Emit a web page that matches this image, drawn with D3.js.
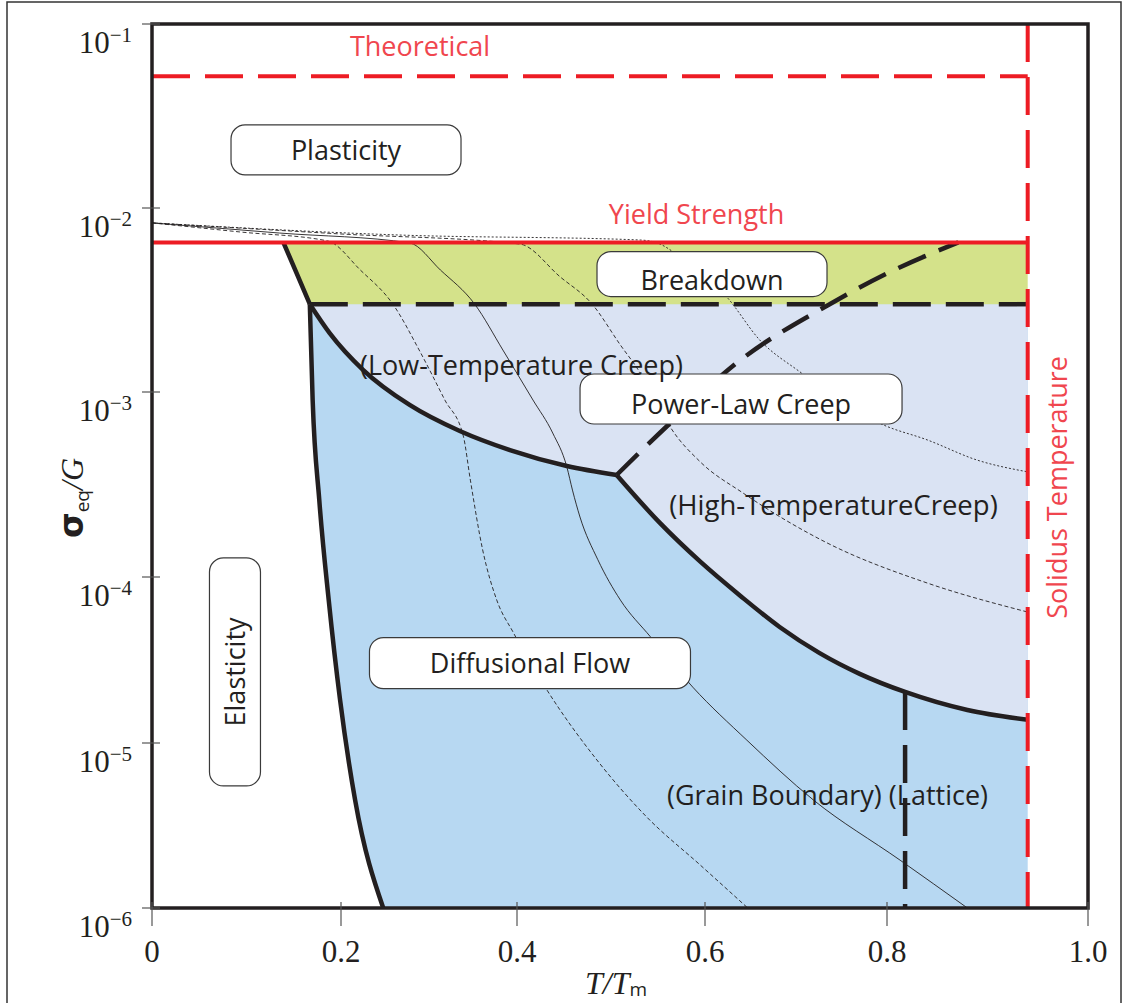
<!DOCTYPE html>
<html>
<head>
<meta charset="utf-8">
<script src="https://cdn.jsdelivr.net/npm/d3@7"></script>
<style>
  body { margin: 0; background: #fff; }
  svg { font-family: "Open Sans", sans-serif; }
</style>
</head>
<body>
<div id="chart"></div>
<script>
// axis ticks
const tempTicks = [0, 0.2, 0.4, 0.6, 0.8, 1.0];
const tempTickLabels = ['0', '0.2', '0.4', '0.6', '0.8', '1.0'];
const stressTicks = [1e-6, 1e-5, 1e-4, 1e-3, 1e-2, 1e-1];
const stressExponents = ['−6', '−5', '−4', '−3', '−2', '−1'];

// limits (sigma/G, T/Tm)
const theoretical = 0.052;
const yieldStrength = 6.5e-3;
const breakdownLimit = 3.0e-3;
const solidus = 0.94;

// mechanism boundaries, points are [T/Tm, sigma/G]
const elasticUpper = [[0.139, 6.5e-3], [0.153, 4.43e-3], [0.167, 3.0e-3]];
const elasticLower = [[0.167, 3.0e-3], [0.170, 9.05e-4], [0.177, 2.61e-4], [0.187, 7.26e-5],
  [0.199, 1.82e-5], [0.216, 4.52e-6], [0.248, 1e-6]];
const lowTempCreep = [[0.167, 3.0e-3], [0.188, 2.09e-3], [0.225, 1.32e-3], [0.278, 8.51e-4],
  [0.335, 6.15e-4], [0.392, 4.85e-4], [0.453, 3.98e-4], [0.506, 3.56e-4]];
const highTempCreep = [[0.506, 3.56e-4], [0.552, 1.96e-4], [0.595, 1.21e-4], [0.639, 7.69e-5],
  [0.682, 5.00e-5], [0.726, 3.48e-5], [0.770, 2.61e-5], [0.818, 2.03e-5], [0.880, 1.58e-5], [0.94, 1.38e-5]];
const powerLawBreakdown = [[0.506, 3.56e-4], [0.563, 6.79e-4], [0.635, 1.44e-3], [0.737, 3.0e-3],
  [0.803, 4.49e-3], [0.871, 6.5e-3]];
const latticeBoundary = [[0.818, 2.03e-5], [0.818, 1e-6]];

// strain-rate contours
const rateA = [[0, 8.3e-3], [0.093, 7.41e-3], [0.186, 6.62e-3], [0.222, 4.60e-3], [0.259, 3.0e-3],
  [0.290, 1.65e-3], [0.318, 9.05e-4], [0.339, 5.78e-4], [0.347, 3.34e-4], [0.361, 1.40e-4],
  [0.377, 7.26e-5], [0.396, 4.61e-5], [0.432, 2.08e-5], [0.485, 7.89e-6], [0.538, 3.56e-6],
  [0.595, 1.82e-6], [0.647, 1e-6]];
const rateB = [[0, 8.3e-3], [0.135, 7.31e-3], [0.278, 6.46e-3], [0.313, 4.60e-3], [0.352, 3.0e-3],
  [0.384, 1.69e-3], [0.417, 9.05e-4], [0.438, 6.0e-4], [0.453, 3.94e-4], [0.459, 2.95e-4],
  [0.467, 2.11e-4], [0.486, 1.24e-4], [0.510, 7.26e-5], [0.542, 4.36e-5], [0.587, 2.17e-5],
  [0.646, 1.04e-5], [0.719, 4.52e-6], [0.813, 1.95e-6], [0.880, 1e-6]];
const rateC = [[0, 8.3e-3], [0.199, 7.23e-3], [0.403, 6.37e-3], [0.446, 4.22e-3], [0.480, 3.0e-3],
  [0.510, 1.80e-3], [0.531, 1.27e-3], [0.547, 9.05e-4], [0.563, 6.47e-4], [0.595, 4.19e-4],
  [0.642, 2.84e-4], [0.734, 1.53e-4], [0.840, 9.2e-5], [0.94, 6.15e-5]];
const rateD = [[0, 8.3e-3], [0.267, 7.13e-3], [0.531, 6.70e-3], [0.549, 6.46e-3], [0.584, 4.90e-3],
  [0.624, 3.28e-3], [0.660, 1.92e-3], [0.704, 1.29e-3], [0.796, 6.64e-4], [0.840, 5.51e-4],
  [0.890, 4.28e-4], [0.94, 3.70e-4]];

// region names and where they sit [T/Tm, sigma/G]
const boxedNames = ['Plasticity', 'Breakdown', 'Power-Law Creep', 'Diffusional Flow', 'Elasticity'];
const boxedAt = [[0.2057, 0.0207], [0.6077, 4.06e-3], [0.6396, 8.61e-4], [0.4138, 3.03e-5], [0.0878, 2.68e-5]];
const plainNames = ['(Low-Temperature Creep)', '(High-TemperatureCreep)', '(Grain Boundary) (Lattice)'];
const plainAt = [[0.4048, 1.40e-3], [0.7412, 2.45e-4], [0.7346, 4.84e-6]];
const limitNames = ['Theoretical', 'Yield Strength', 'Solidus Temperature'];
const limitAt = [[0.2898, 0.0759], [0.591, 9.27e-3], [0.969, 3.05e-4]];

// box sizes / nudges (layout only)
const boxStyle = {
  'Plasticity': {w: 230, h: 50, dy: 0, rot: false},
  'Breakdown': {w: 230, h: 45, dy: -6, rot: false},
  'Power-Law Creep': {w: 322, h: 50, dy: -5, rot: false},
  'Diffusional Flow': {w: 321, h: 51, dy: 0, rot: false},
  'Elasticity': {w: 51, h: 228, dy: 0, rot: true}
};

const W = 1125, H = 1003;
const plot = {left: 152, top: 24, width: 936, height: 884};
const ink = '#231f20', red = '#ed1c24', redText = '#f0464e';
const serif = '"Liberation Serif", "Times New Roman", serif';

const svg = d3.select('#chart').append('svg')
  .attr('width', W)
  .attr('height', H);

svg.append('rect').attr('width', W).attr('height', H).attr('fill', '#fff');
// outer figure frame
svg.append('rect')
  .attr('x', 7).attr('y', 2).attr('width', 1114).attr('height', 1020)
  .attr('fill', 'none').attr('stroke', '#333').attr('stroke-width', 1.5);

// the original axis is hand drawn, ticks are not evenly spaced
const x = d3.scaleLinear()
  .domain(tempTicks)
  .range([0, 189, 365, 553, 735, 936].map(v => plot.left + v));
const y = d3.scaleLog()
  .domain(stressTicks)
  .range([884, 719, 553, 368, 184, 0].map(v => plot.top + v));

const curved = d3.line().x(d => x(d[0])).y(d => y(d[1])).curve(d3.curveMonotoneX);
const straight = d3.line().x(d => x(d[0])).y(d => y(d[1]));

// path piece without the closing Z, optionally continuing a path
function seg(pts, first) {
  const s = (pts.length > 2 ? curved : straight)(pts).replace(/Z$/, '');
  return first ? s : s.replace(/^M/, 'L');
}

// region fills: blue underneath everything right of the elastic edge, lavender and green on top
svg.append('path')
  .attr('d', seg(elasticLower, true) + seg([[solidus, 1e-6]]) + seg([[solidus, breakdownLimit]]) + 'Z')
  .attr('fill', '#b7d8f2');
svg.append('path')
  .attr('d', seg(lowTempCreep, true) + seg(highTempCreep) + seg([[solidus, breakdownLimit]]) + 'Z')
  .attr('fill', '#dae3f3');
svg.append('path')
  .attr('d', seg(elasticUpper, true) + seg([[solidus, breakdownLimit], [solidus, yieldStrength]]) + 'Z')
  .attr('fill', '#d4e28a');

// strain-rate contours
const contours = [
  {pts: rateA, dash: '4,2.5'},
  {pts: rateB, dash: null},
  {pts: rateC, dash: '4,2.5'},
  {pts: rateD, dash: '2,2'}
];
svg.append('g')
  .selectAll('path')
  .data(contours)
  .enter()
  .append('path')
  .attr('d', d => curved(d.pts))
  .attr('fill', 'none')
  .attr('stroke', ink)
  .attr('stroke-width', 0.9)
  .attr('stroke-dasharray', d => d.dash);

// thick boundaries
[elasticUpper, elasticLower, lowTempCreep, highTempCreep].forEach(b => {
  svg.append('path').attr('d', curved(b))
    .attr('fill', 'none').attr('stroke', ink).attr('stroke-width', 4.5)
    .attr('stroke-linejoin', 'round');
});
svg.append('path')
  .attr('d', straight([[0.167, breakdownLimit], [solidus, breakdownLimit]]))
  .attr('fill', 'none').attr('stroke', ink).attr('stroke-width', 4.5)
  .attr('stroke-dasharray', '38,15');
svg.append('path')
  .attr('d', curved(powerLawBreakdown))
  .attr('fill', 'none').attr('stroke', ink).attr('stroke-width', 4.5)
  .attr('stroke-dasharray', '30,14');
svg.append('path')
  .attr('d', straight(latticeBoundary))
  .attr('fill', 'none').attr('stroke', ink).attr('stroke-width', 4.5)
  .attr('stroke-dasharray', '38,15');

// red limits
svg.append('path')
  .attr('d', straight([[0, theoretical], [solidus, theoretical]]))
  .attr('fill', 'none').attr('stroke', red).attr('stroke-width', 4)
  .attr('stroke-dasharray', '38,15');
svg.append('path')
  .attr('d', straight([[solidus, 0.1], [solidus, 1e-6]]))
  .attr('fill', 'none').attr('stroke', red).attr('stroke-width', 4)
  .attr('stroke-dasharray', '38,15');
svg.append('path')
  .attr('d', straight([[0, yieldStrength], [solidus, yieldStrength]]))
  .attr('fill', 'none').attr('stroke', red).attr('stroke-width', 4);

// boxed region labels
const boxes = svg.append('g')
  .selectAll('g')
  .data(boxedNames)
  .enter()
  .append('g')
  .attr('transform', (d, i) => `translate(${x(boxedAt[i][0])},${y(boxedAt[i][1])})`);
boxes.append('rect')
  .attr('x', d => -boxStyle[d].w / 2)
  .attr('y', d => -boxStyle[d].h / 2 + boxStyle[d].dy)
  .attr('width', d => boxStyle[d].w)
  .attr('height', d => boxStyle[d].h)
  .attr('rx', 14)
  .attr('fill', '#fff')
  .attr('stroke', '#3a3a3a')
  .attr('stroke-width', 1.2);
boxes.append('text')
  .attr('transform', d => boxStyle[d].rot ? 'rotate(-90)' : null)
  .attr('text-anchor', 'middle')
  .attr('dy', '0.36em')
  .attr('font-size', 27)
  .attr('fill', ink)
  .text(d => d);

// plain region labels
svg.append('g')
  .selectAll('text')
  .data(plainNames)
  .enter()
  .append('text')
  .attr('x', (d, i) => x(plainAt[i][0]))
  .attr('y', (d, i) => y(plainAt[i][1]))
  .attr('text-anchor', 'middle')
  .attr('dy', '0.36em')
  .attr('font-size', (d, i) => i === 1 ? 27.5 : 27)
  .attr('fill', ink)
  .text(d => d);

// red limit labels
svg.append('g')
  .selectAll('text')
  .data(limitNames)
  .enter()
  .append('text')
  .attr('transform', (d, i) => `translate(${x(limitAt[i][0])},${y(limitAt[i][1])})` + (i === 2 ? ' rotate(-90)' : ''))
  .attr('text-anchor', 'middle')
  .attr('dy', '0.36em')
  .attr('font-size', 27)
  .attr('fill', redText)
  .text(d => d);

// plot frame
svg.append('rect')
  .attr('x', plot.left).attr('y', plot.top)
  .attr('width', plot.width).attr('height', plot.height)
  .attr('fill', 'none').attr('stroke', ink).attr('stroke-width', 3.5);

// x ticks
const xTick = svg.append('g')
  .selectAll('g')
  .data(tempTicks)
  .enter()
  .append('g')
  .attr('transform', d => `translate(${x(d)},${plot.top + plot.height})`);
xTick.append('line')
  .attr('y1', -6).attr('y2', 18)
  .attr('stroke', '#555').attr('stroke-width', 1.2);
xTick.append('text')
  .attr('y', 54)
  .attr('text-anchor', 'middle')
  .style('font-family', serif)
  .attr('font-size', 31)
  .attr('fill', ink)
  .text((d, i) => tempTickLabels[i]);

// y ticks
const yTick = svg.append('g')
  .selectAll('g')
  .data(stressTicks)
  .enter()
  .append('g')
  .attr('transform', d => `translate(${plot.left},${y(d)})`);
yTick.append('line')
  .attr('x1', -10).attr('x2', 8)
  .attr('stroke', '#555').attr('stroke-width', 1.2);
const yLab = yTick.append('text')
  .attr('x', -20)
  .attr('y', 29)
  .attr('text-anchor', 'end')
  .style('font-family', serif)
  .attr('fill', ink);
yLab.append('tspan').attr('font-size', 31).text('10');
yLab.append('tspan').attr('font-size', 21).attr('dy', -11).text((d, i) => stressExponents[i]);

// axis titles
const yTitle = svg.append('text')
  .attr('transform', 'translate(83,498) rotate(-90)')
  .attr('text-anchor', 'middle')
  .attr('fill', ink);
yTitle.append('tspan').style('font-family', '"DejaVu Sans", sans-serif').attr('font-weight', 'bold').attr('font-size', 33).text('σ');
yTitle.append('tspan').attr('font-size', 19).attr('dy', 6).text('eq');
yTitle.append('tspan').style('font-family', serif).style('font-style', 'italic').attr('font-size', 32).attr('dy', -6).text('/G');

const xTitle = svg.append('text')
  .attr('x', 616).attr('y', 994)
  .attr('text-anchor', 'middle')
  .attr('fill', ink);
xTitle.append('tspan').style('font-family', serif).style('font-style', 'italic').attr('font-size', 32).text('T/T');
xTitle.append('tspan').attr('font-size', 19).attr('dy', 2).text('m');
</script>
</body>
</html>
